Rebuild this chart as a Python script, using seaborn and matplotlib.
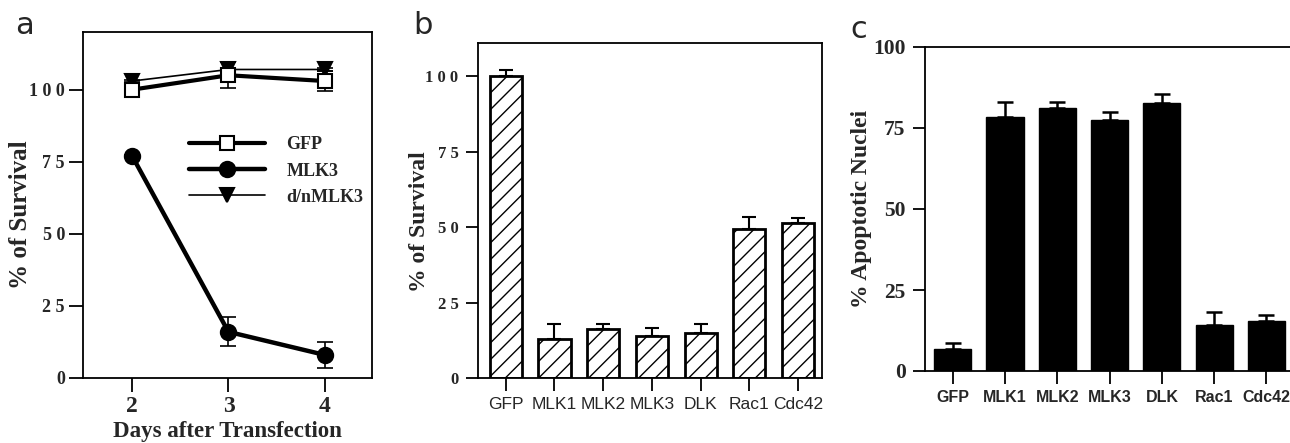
import numpy as np
import pandas as pd
import matplotlib
matplotlib.use('Agg')
import matplotlib.pyplot as plt
import seaborn as sns

sns.set_style('white')
plt.rcParams['font.family'] = ['Liberation Serif', 'DejaVu Serif']
plt.rcParams['hatch.linewidth'] = 1.0

# ── panel a: survival over time ──
days = [2, 3, 4]
gfp_surv = [100, 105, 103]
gfp_err = [0.5, 4.5, 3.5]
mlk3_surv = [77, 16, 8]
mlk3_err = [0.5, 5, 4.5]
dn_surv = [103, 107, 107]
dn_err = [0.5, 0.5, 0.5]

# ── panel b: survival by construct ──
constructs = ['GFP', 'MLK1', 'MLK2', 'MLK3', 'DLK', 'Rac1', 'Cdc42']
surv_b = [100, 13, 16.2, 14, 15, 49.3, 51.3]
surv_b_err = [2, 5, 1.8, 2.6, 3, 4.2, 1.8]

# ── panel c: apoptotic nuclei ──
apop_c = [6.8, 78.3, 81.3, 77.4, 82.6, 14.2, 15.4]
apop_c_err = [1.8, 4.7, 1.6, 2.6, 2.8, 4.1, 2.0]

W, H = 1290, 443
fig = plt.figure(figsize=(W / 100, H / 100), dpi=100)

def fr(l, t, r, b):
    return [l / W, 1 - b / H, (r - l) / W, (b - t) / H]

num_font = dict(family=['Liberation Serif'], weight='bold', size=13)
cat_font = dict(family=['Liberation Sans'], weight='bold', size=11.5)

# ---------- a ----------
ax = fig.add_axes(fr(83, 32, 372, 378))
df_a = pd.DataFrame({
    'day': days * 3,
    'surv': gfp_surv + mlk3_surv + dn_surv,
    'grp': ['GFP'] * 3 + ['MLK3'] * 3 + ['d/nMLK3'] * 3,
})
styles = {
    'GFP': dict(marker='s', mfc='white', lw=3, ms=10),
    'MLK3': dict(marker='o', mfc='black', lw=3.2, ms=11),
    'd/nMLK3': dict(marker='v', mfc='black', lw=1.2, ms=10),
}
errs = {'GFP': gfp_err, 'MLK3': mlk3_err, 'd/nMLK3': dn_err}
for grp in ['d/nMLK3', 'GFP', 'MLK3']:
    sub = df_a[df_a['grp'] == grp]
    ax.errorbar(sub['day'], sub['surv'], yerr=errs[grp], fmt='none',
                ecolor='black', elinewidth=1.2, capsize=6, capthick=1.2, zorder=2)
    st = styles[grp]
    sns.lineplot(data=sub, x='day', y='surv', ax=ax, color='black',
                 linewidth=st['lw'], marker=st['marker'], markersize=st['ms'],
                 markerfacecolor=st['mfc'], markeredgecolor='black',
                 markeredgewidth=1.5, label=grp, zorder=3)
h, l = ax.get_legend_handles_labels()
order = [l.index(n) for n in ['GFP', 'MLK3', 'd/nMLK3']]
leg = ax.legend([h[i] for i in order], [l[i] for i in order],
                loc='upper left', bbox_to_anchor=(0.31, 0.745), frameon=False,
                handlelength=4.2, handletextpad=1.2, labelspacing=0.5,
                prop=dict(family='Liberation Serif', weight='bold', size=13))
ax.set_xlim(1.49, 4.49)
ax.set_ylim(0, 120)
ax.set_xticks(days)
ax.set_yticks([0, 25, 50, 75, 100])
ax.set_xticklabels([str(d) for d in days], fontdict=dict(num_font, size=17))
ax.set_yticklabels(['0', '2 5', '5 0', '7 5', '1 0 0'], fontdict=num_font)
ax.set_xlabel('Days after Transfection', fontdict=dict(num_font, size=16.5), labelpad=3)
ax.set_ylabel('% of Survival', fontdict=dict(num_font, size=18))
ax.yaxis.set_label_coords(-0.178, 0.472)
ax.tick_params(direction='out', length=10, width=1.3, color='black', pad=3, left=True, bottom=True)
for s in ax.spines.values():
    s.set_linewidth(1.3)
    s.set_color('black')

# ---------- b ----------
ax = fig.add_axes(fr(478, 43, 822, 378))
df_b = pd.DataFrame({'construct': constructs, 'val': surv_b})
sns.barplot(data=df_b, x='construct', y='val', ax=ax, color='white',
            edgecolor='black', linewidth=2, width=0.66, errorbar=None, zorder=2)
for p in ax.patches:
    p.set_hatch('//')
    p.set_facecolor('white')
ax.errorbar(range(len(constructs)), surv_b, yerr=[np.zeros(len(surv_b)), surv_b_err],
            fmt='none', ecolor='black', elinewidth=1.5, capsize=5, capthick=1.5, zorder=1)
ax.set_xlim(-0.57, 6.49)
ax.set_ylim(0, 111)
ax.set_yticks([0, 25, 50, 75, 100])
ax.set_yticklabels(['0', '2 5', '5 0', '7 5', '1 0 0'], fontdict=dict(num_font, size=12))
ax.set_xticks(range(len(constructs)))
ax.set_xticklabels(constructs, fontdict=dict(cat_font, weight='normal', size=12.5))
ax.set_xlabel('')
ax.set_ylabel('% of Survival', fontdict=dict(num_font, size=17))
ax.yaxis.set_label_coords(-0.14, 0.468)
ax.tick_params(direction='out', length=9, width=1.3, color='black', pad=5, left=True, bottom=True)
for s in ax.spines.values():
    s.set_linewidth(1.3)
    s.set_color('black')

# ---------- c ----------
ax = fig.add_axes(fr(925, 47, 1290, 371))
df_c = pd.DataFrame({'construct': constructs, 'val': apop_c})
sns.barplot(data=df_c, x='construct', y='val', ax=ax, color='black',
            edgecolor='black', linewidth=1, width=0.71, errorbar=None, zorder=2)
ax.errorbar(range(len(constructs)), apop_c, yerr=[np.zeros(len(apop_c)), apop_c_err],
            fmt='none', ecolor='black', elinewidth=1.8, capsize=5.5, capthick=1.8, zorder=1)
ax.set_xlim(-0.53, 6.45)
ax.set_ylim(0, 100)
ax.set_yticks([0, 25, 50, 75, 100])
ax.set_yticklabels(['0', '25', '50', '75', '100'], fontdict=dict(num_font, size=15.5))
ax.set_xticks(range(len(constructs)))
ax.set_xticklabels(constructs, fontdict=cat_font)
ax.set_xlabel('')
ax.set_ylabel('% Apoptotic Nuclei', fontdict=dict(num_font, size=17))
ax.yaxis.set_label_coords(-0.145, 0.5)
ax.tick_params(direction='out', length=9, width=1.3, color='black', pad=5, left=True, bottom=True)
ax.spines['right'].set_visible(False)
for s in ax.spines.values():
    s.set_linewidth(1.3)
    s.set_color('black')

# panel letters
for txt, x, y in [('a', 15, 25), ('b', 413, 25), ('c', 850, 30)]:
    fig.text(x / W, 1 - y / H, txt, fontsize=22, family='DejaVu Sans',
             ha='left', va='center')

fig.savefig('out.png', dpi=100)
